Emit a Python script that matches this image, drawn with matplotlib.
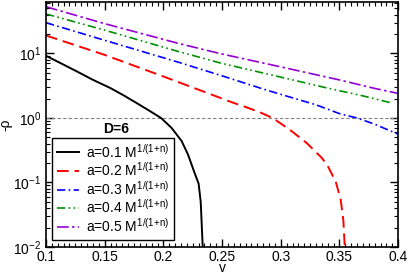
import numpy as np
import matplotlib
matplotlib.use("Agg")
import matplotlib.pyplot as plt
from matplotlib.ticker import MultipleLocator, LogLocator, NullFormatter

plt.rcParams['font.family'] = ['Liberation Sans', 'DejaVu Sans']
plt.rcParams['mathtext.fontset'] = 'custom'
plt.rcParams['mathtext.rm'] = 'Liberation Sans'
plt.rcParams['mathtext.it'] = 'Liberation Sans:italic'
plt.rcParams['mathtext.bf'] = 'Liberation Sans:bold'

# datos
v_a1 = [0.1, 0.113, 0.126, 0.14, 0.155, 0.165, 0.175, 0.187, 0.198, 0.207, 0.2155, 0.221, 0.226, 0.23, 0.2318, 0.2335]
rho_a1 = [9.2, 7.0, 5.3, 3.9, 2.9, 2.3, 1.8, 1.33, 1.0, 0.70, 0.44, 0.27, 0.15, 0.096, 0.05, 0.01]

v_a2 = [0.1, 0.15, 0.2, 0.25, 0.258, 0.27, 0.282, 0.293, 0.3, 0.308, 0.322, 0.335, 0.34,
        0.344, 0.347, 0.351, 0.3533, 0.3545]
rho_a2 = [19.0, 9.5, 4.4, 2.0, 1.76, 1.48, 1.23, 1.0, 0.82, 0.65, 0.41, 0.24, 0.18,
          0.13, 0.1, 0.055, 0.026, 0.01]

v_a3 = [0.1, 0.15, 0.213, 0.25, 0.288, 0.33, 0.351, 0.365, 0.38, 0.4]
rho_a3 = [30.0, 16.0, 7.3, 4.5, 2.7, 1.6, 1.15, 1.0, 0.8, 0.56]

v_a4 = [0.1, 0.15, 0.213, 0.25, 0.3, 0.34, 0.37, 0.395]
rho_a4 = [41.0, 23.0, 10.7, 7.0, 4.3, 2.9, 2.2, 1.7]

v_a5 = [0.1, 0.15, 0.213, 0.25, 0.3, 0.351, 0.379, 0.4]
rho_a5 = [53.0, 29.0, 14.3, 9.8, 6.2, 3.85, 2.9, 2.4]

etiquetas = ["a=0.1 M$^{\\mathrm{1/(1{+}n)}}$", "a=0.2 M$^{\\mathrm{1/(1{+}n)}}$",
             "a=0.3 M$^{\\mathrm{1/(1{+}n)}}$", "a=0.4 M$^{\\mathrm{1/(1{+}n)}}$",
             "a=0.5 M$^{\\mathrm{1/(1{+}n)}}$"]

fig = plt.figure(figsize=(4.09, 2.75), dpi=100)
ax = fig.add_axes([0.1125, 0.102, 0.861, 0.891])

ax.axhline(1.0, color="gray", lw=0.8, ls=(0, (3, 2)))

ax.plot(v_a1, rho_a1, color="black", lw=1.4, label=etiquetas[0])
ax.plot(v_a2, rho_a2, color="red", lw=1.4, ls=(0, (6, 3)), label=etiquetas[1])
ax.plot(v_a3, rho_a3, color="blue", lw=1.2, ls=(0, (5, 2, 1, 2)), label=etiquetas[2])
ax.plot(v_a4, rho_a4, color="#009000", lw=1.2, ls=(0, (5, 2, 1, 2, 1, 2)), label=etiquetas[3])
ax.plot(v_a5, rho_a5, color="#9400d3", lw=1.2, ls=(0, (7, 2, 1.5, 2)), label=etiquetas[4])

ax.set_yscale("log")
ax.set_xlim(0.1, 0.4)
ax.set_ylim(0.01, 63)
ax.set_xticks([0.1, 0.15, 0.2, 0.25, 0.3, 0.35, 0.4])
ax.set_xticklabels(["0.1", "0.15", "0.2", "0.25", "0.3", "0.35", "0.4"])
ax.xaxis.set_minor_locator(MultipleLocator(0.005))
ax.yaxis.set_major_locator(LogLocator(base=10, numticks=10))
ax.yaxis.set_minor_locator(LogLocator(base=10, subs=np.arange(2, 10), numticks=10))
ax.yaxis.set_minor_formatter(NullFormatter())
ax.tick_params(which="both", direction="in", top=True, right=True, labelsize=10)
ax.tick_params(which="major", length=6, width=1)
ax.tick_params(which="minor", length=3, width=0.8)
ax.tick_params(axis="x", pad=2)
for s in ax.spines.values():
    s.set_linewidth(1.2)

ax.set_xlabel("v", fontsize=10)
ax.xaxis.set_label_coords(0.5, -0.057)
ax.set_ylabel("-ρ", fontsize=10)
ax.yaxis.set_label_coords(-0.095, 0.5)

leg = ax.legend(loc="lower left", bbox_to_anchor=(0.017, 0.03), borderaxespad=0,
                fontsize=10, handlelength=1.6, labelspacing=0.05, borderpad=0.35,
                handletextpad=0.5, fancybox=False, framealpha=1)
leg.get_frame().set_edgecolor("black")
leg.get_frame().set_linewidth(1.0)
ax.text(0.20, 0.48, "D=6", transform=ax.transAxes, fontsize=10,
        fontweight="bold", ha="center", va="center")

fig.savefig("out.png", dpi=100)
